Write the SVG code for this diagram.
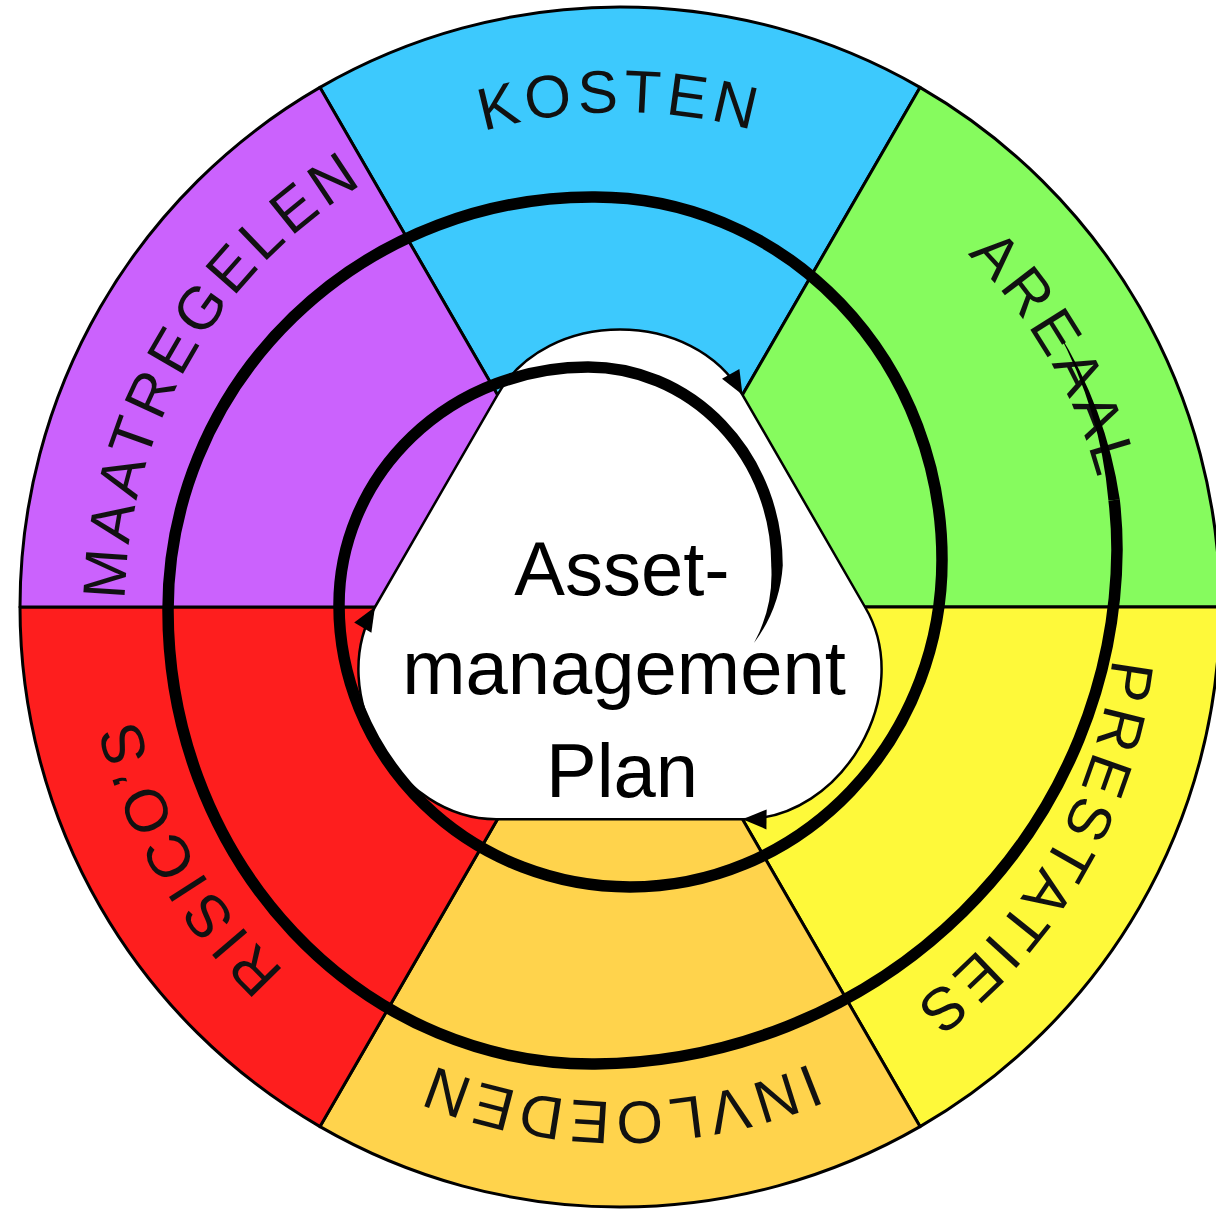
<svg xmlns="http://www.w3.org/2000/svg" width="1216" height="1212" viewBox="0 0 1216 1212">
<defs>
<style>
.seg{stroke:#000;stroke-width:3;stroke-linejoin:round}
.lbl{font-family:"Liberation Sans",Arial,sans-serif;font-size:60px;fill:#111;letter-spacing:5px}
.ctr{font-family:"Liberation Sans",Arial,sans-serif;font-size:76px;fill:#000;text-anchor:middle}
.spiral{fill:none;stroke:#000;stroke-width:11.5}
.tip{fill:#000}
.hub{fill:#fff;stroke:#000;stroke-width:2.5;stroke-linejoin:round}
</style>
<path id="pK" d="M126.9,563.9 A495,495 0 0 1 1113.1,563.9"/>
<path id="pA" d="M410.8,158.4 A495,495 0 0 1 903.9,1012.5"/>
<path id="pP" d="M903.9,201.5 A495,495 0 0 1 410.8,1055.6"/>
<path id="pI" d="M1113.1,650.1 A495,495 0 0 1 126.9,650.1"/>
<path id="pR" d="M829.2,1055.6 A495,495 0 0 1 336.1,201.5"/>
<path id="pM" d="M336.1,1012.5 A495,495 0 0 1 829.2,158.4"/>
</defs>
<rect width="1216" height="1212" fill="#fff"/>
<g id="kosten">
<path class="seg" fill="#3DC9FD" d="M620,607 L920,87.4 A600,600 0 0 0 320,87.4 Z"/>
<text class="lbl"><textPath href="#pK" startOffset="50%" text-anchor="middle">KOSTEN</textPath></text>
</g>
<g id="areaal">
<path class="seg" fill="#86FB5E" d="M620,607 L1220,607 A600,600 0 0 0 920,87.4 Z"/>
<text class="lbl"><textPath href="#pA" startOffset="50%" text-anchor="middle">AREAAL</textPath></text>
</g>
<g id="prestaties">
<path class="seg" fill="#FEF93A" d="M620,607 L920,1126.6 A600,600 0 0 0 1220,607 Z"/>
<text class="lbl"><textPath href="#pP" startOffset="50%" text-anchor="middle">PRESTATIES</textPath></text>
</g>
<g id="invloeden">
<path class="seg" fill="#FFD34C" d="M620,607 L320,1126.6 A600,600 0 0 0 920,1126.6 Z"/>
<text class="lbl"><textPath href="#pI" startOffset="50%" text-anchor="middle">INVLOEDEN</textPath></text>
</g>
<g id="risicos">
<path class="seg" fill="#FE1E1E" d="M620,607 L20,607 A600,600 0 0 0 320,1126.6 Z"/>
<text class="lbl"><textPath href="#pR" startOffset="50%" text-anchor="middle">RISICO’S</textPath></text>
</g>
<g id="maatregelen">
<path class="seg" fill="#CB62FD" d="M620,607 L320,87.4 A600,600 0 0 0 20,607 Z"/>
<text class="lbl"><textPath href="#pM" startOffset="50%" text-anchor="middle">MAATREGELEN</textPath></text>
</g>
<g id="asset-management-plan">
<path class="hub" d="M497.5,394.8 C546.5,307.8 693.5,307.8 742.5,394.8 L865,607 C915.9,693 842.4,820.3 742.5,819.2 L497.5,819.2 C397.6,820.3 324.1,693 375,607 Z"/>
<polygon class="tip" points="742.5,394.8 739.4,369 722,378.8"/>
<polygon class="tip" points="742.5,394.8 739.4,369 722,378.8" transform="rotate(120 620 607)"/>
<polygon class="tip" points="742.5,394.8 739.4,369 722,378.8" transform="rotate(240 620 607)"/>
<text class="ctr"><tspan x="622" y="595">Asset-</tspan><tspan x="624" y="694">management</tspan><tspan x="622" y="797">Plan</tspan></text>
</g>
<g id="connectors">
<path class="tip" d="M1057,330 A517,470 0 0 1 1119.8,499.4 L1108.4,500.6 A517,470 0 0 0 1057,330 Z"/>
<path class="spiral" d="M1114.1,500 A517,470 0 0 1 1117,550 A527,518 0 0 1 595,1064 A424,454 0 0 1 168,610 A424,413 0 0 1 595,197 A347,363 0 0 1 942,560 A312,327 0 0 1 630,887 A291,282 0 0 1 339,605 A249,238 0 0 1 588,367 A189,198 0 0 1 777,565"/>
<path class="tip" d="M782.8,565 A157,150 0 0 1 754,643 A157,150 0 0 0 771.2,565 Z"/>
</g>
</svg>
